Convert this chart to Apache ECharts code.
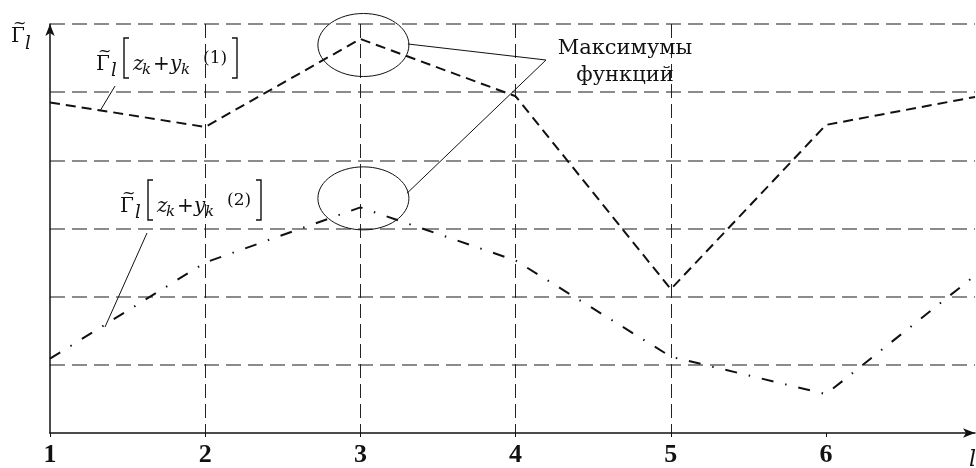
<!DOCTYPE html>
<html>
<head>
    <meta charset="UTF-8">
    <title>maxima</title>
    <style>
        html, body { margin: 0; padding: 0; background: #fff; }
    </style>
</head>
<body>

<script src="https://cdn.jsdelivr.net/npm/echarts@6/dist/echarts.min.js"></script>

<div id="chartDom" style="width: 976px;height:468px;"></div>

<script type="text/javascript">
    // данные
    var xTicks = [1, 2, 3, 4, 5, 6];
    var xs = [1, 2, 3, 4, 5, 6, 6.96];
    var curve1 = [4.85, 4.49, 5.78, 4.94, 2.11, 4.52, 4.93];   // Γ[z + y(1)]
    var curve2 = [1.09, 2.50, 3.31, 2.53, 1.12, 0.57, 2.31];   // Γ[z + y(2)]
    var noteText = ['Максимумы', 'функций'];

    var serif = '"DejaVu Serif", serif';
    var myChart = echarts.init(document.getElementById('chartDom'));

    function pairs(vals) {
        return vals.map(function (v, i) { return [xs[i], v]; });
    }

    // кусок текста: x - левый край, base - базовая линия
    function piece(text, x, base, size, italic, family) {
        return {
            type: 'text',
            silent: true,
            style: {
                text: text,
                x: x,
                y: base - 0.3 * size,
                font: (italic ? 'italic ' : '') + size + 'px ' + (family || serif),
                fill: '#111',
                textAlign: 'left',
                textVerticalAlign: 'middle'
            }
        };
    }

    // Γ с тильдой сверху
    function gammaTilde(x, b, size) {
        return [
            piece('Γ', x, b, size, false),
            piece('~', x + 2, b - size * 0.72, size * 0.8, false)
        ];
    }

    // тонкая квадратная скобка
    function bracket(x, b, dir) {
        var w = 5 * dir;
        return {
            type: 'polyline', silent: true,
            shape: { points: [[x + w, b - 33], [x, b - 33], [x, b + 7], [x + w, b + 7]] },
            style: { fill: 'none', stroke: '#111', lineWidth: 1.4 }
        };
    }

    // Γ̃_l [ z_k + y_k^(n) ]
    function gammaLabel(x0, b, n) {
        return gammaTilde(x0, b, 20).concat([
            piece('l', x0 + 15, b + 6, 18, true),
            bracket(x0 + 28, b, 1),
            piece('z', x0 + 37, b, 20, true),
            piece('k', x0 + 46, b + 4, 15, true),
            piece('+', x0 + 57, b, 20, false),
            piece('y', x0 + 74, b, 20, true),
            piece('k', x0 + 85, b + 4, 15, true),
            piece('(' + n + ')', x0 + 107, b - 7, 17, false),
            bracket(x0 + 141, b, -1)
        ]);
    }

    var option = {
        animation: false,
        backgroundColor: '#fff',
        grid: {
            left: 50,
            top: 24,
            width: 925,
            height: 413
        },
        xAxis: {
            type: 'value',
            min: 1,
            max: 6.96,
            interval: 1,
            axisLine: {
                show: true,
                symbol: ['none', 'arrow'],
                symbolSize: [7, 12],
                lineStyle: { color: '#111', width: 1.5 }
            },
            axisTick: {
                show: true,
                length: 4,
                customValues: xTicks,
                lineStyle: { color: '#111' }
            },
            axisLabel: {
                margin: 9,
                customValues: xTicks,
                color: '#111',
                fontFamily: '"Liberation Serif", serif',
                fontWeight: 'bold',
                fontSize: 26
            },
            splitLine: {
                show: true,
                showMinLine: false,
                showMaxLine: false,
                lineStyle: { color: '#222', width: 1, type: [14, 6] }
            }
        },
        yAxis: {
            type: 'value',
            min: 0,
            max: 6,
            interval: 1,
            axisLine: {
                show: true,
                symbol: ['none', 'arrow'],
                symbolSize: [7, 12],
                lineStyle: { color: '#111', width: 1.5 }
            },
            axisTick: { show: false },
            axisLabel: { show: false },
            splitLine: {
                show: true,
                showMinLine: false,
                lineStyle: { color: '#666', width: 1.5, type: [15, 7] }
            }
        },
        series: [{
            name: 'y1',
            type: 'line',
            showSymbol: false,
            data: pairs(curve1),
            lineStyle: { color: '#111', width: 2, type: [10, 6] }
        }, {
            name: 'y2',
            type: 'line',
            showSymbol: false,
            data: pairs(curve2),
            lineStyle: { color: '#111', width: 2, type: [12, 12, 1.5, 12] }
        }]
    };
    myChart.setOption(option);

    // эллипсы вокруг максимумов привязаны к точкам данных
    var i1 = curve1.indexOf(Math.max.apply(null, curve1));
    var i2 = curve2.indexOf(Math.max.apply(null, curve2));
    var p1 = myChart.convertToPixel({ seriesIndex: 0 }, [xs[i1], curve1[i1]]);
    var p2 = myChart.convertToPixel({ seriesIndex: 1 }, [xs[i2], curve2[i2]]);
    var rx = 45.5, ry = 31.5;
    var c1 = [p1[0] + 3, p1[1] + 6];
    var c2 = [p2[0] + 3, p2[1] - 9];
    var knee = [546, 60];

    var graphics = [
        { type: 'ellipse', silent: true, shape: { cx: c1[0], cy: c1[1], rx: rx, ry: ry },
          style: { fill: 'none', stroke: '#111', lineWidth: 1 } },
        { type: 'ellipse', silent: true, shape: { cx: c2[0], cy: c2[1], rx: rx, ry: ry },
          style: { fill: 'none', stroke: '#111', lineWidth: 1 } },
        { type: 'polyline', silent: true,
          shape: { points: [[c1[0] + rx - 1, c1[1] - 1], knee, [c2[0] + rx - 2, c2[1] - 5]] },
          style: { fill: 'none', stroke: '#111', lineWidth: 1 } },
        // выноски к подписям кривых
        { type: 'line', silent: true, shape: { x1: 115, y1: 86, x2: 100, y2: 111 },
          style: { stroke: '#111', lineWidth: 1 } },
        { type: 'line', silent: true, shape: { x1: 147, y1: 233, x2: 105, y2: 327 },
          style: { stroke: '#111', lineWidth: 1 } },
        {
            type: 'text', silent: true,
            style: {
                text: noteText.join('\n'),
                x: 625, y: 35,
                font: '21px ' + serif,
                lineHeight: 27,
                fill: '#111',
                textAlign: 'center',
                textVerticalAlign: 'top'
            }
        },
        // подписи осей
        piece('l', 25, 50, 18, true),
        piece('l', 969, 467, 22, true)
    ];
    graphics = graphics.concat(gammaTilde(11, 43, 20), gammaLabel(96, 71, 1), gammaLabel(120, 213, 2));

    myChart.setOption({ graphic: { elements: graphics } });
</script>
</body>
</html>
